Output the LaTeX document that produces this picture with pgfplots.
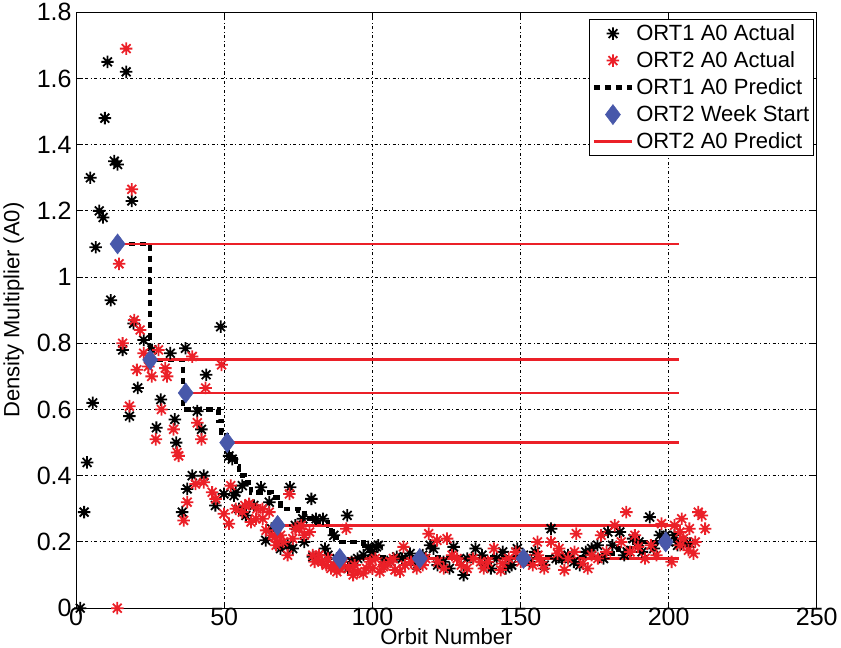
\documentclass[border=0pt]{standalone}
\usepackage{fontspec}
\setmainfont{Liberation Sans}
\usepackage{pgfplots}
\usepackage{pgfplotstable}
\pgfplotsset{compat=1.18}
\definecolor{mred}{RGB}{235,32,40}
\definecolor{mblue}{RGB}{72,88,170}
\pgfdeclareplotmark{ast8}{%
  \pgfpathmoveto{\pgfqpoint{-\pgfplotmarksize}{0pt}}\pgfpathlineto{\pgfqpoint{\pgfplotmarksize}{0pt}}%
  \pgfpathmoveto{\pgfqpoint{0pt}{-\pgfplotmarksize}}\pgfpathlineto{\pgfqpoint{0pt}{\pgfplotmarksize}}%
  \pgfpathmoveto{\pgfqpoint{-.707\pgfplotmarksize}{-.707\pgfplotmarksize}}\pgfpathlineto{\pgfqpoint{.707\pgfplotmarksize}{.707\pgfplotmarksize}}%
  \pgfpathmoveto{\pgfqpoint{-.707\pgfplotmarksize}{.707\pgfplotmarksize}}\pgfpathlineto{\pgfqpoint{.707\pgfplotmarksize}{-.707\pgfplotmarksize}}%
  \pgfusepathqstroke}

\pgfplotstableread{
x y
1.4 0
2.7 0.29
3.7 0.44
4.8 1.30
5.6 0.62
6.6 1.09
7.8 1.20
9.1 1.18
9.7 1.48
10.6 1.65
11.7 0.93
12.9 1.35
14.0 1.34
15.7 0.78
16.9 1.62
18.0 0.58
18.8 1.23
19.4 0.86
20.8 0.665
22.8 0.81
25.6 0.78
27.1 0.545
28.6 0.63
31.8 0.77
33.3 0.57
33.8 0.50
35.8 0.29
36.9 0.785
37.5 0.36
39.2 0.40
40.9 0.595
42.3 0.54
43.1 0.40
43.9 0.705
47.0 0.31
48.8 0.85
49.9 0.345
51.6 0.46
52.7 0.45
53.3 0.34
53.9 0.35
55.0 0.30
56.1 0.37
57.3 0.28
60.0 0.31
62.4 0.365
64.0 0.205
65.2 0.32
66.0 0.24
69.0 0.18
71.4 0.19
72.2 0.365
73.1 0.18
74.0 0.25
76.5 0.27
77.0 0.20
79.4 0.33
79.9 0.155
81.0 0.27
83.3 0.27
84.0 0.18
85.0 0.16
87.0 0.22
88.0 0.15
91.5 0.28
91.8 0.12
93.0 0.14
95.0 0.15
97.0 0.16
98.6 0.185
100.0 0.17
101.4 0.185
102.0 0.19
104.0 0.14
105.0 0.14
108.2 0.155
110.0 0.15
112.7 0.165
115.0 0.13
117.0 0.16
119.5 0.19
120.6 0.18
122.0 0.13
124.0 0.14
126.0 0.12
127.4 0.185
130.8 0.10
132.0 0.15
134.8 0.18
137.0 0.16
138.0 0.13
140.0 0.12
142.0 0.15
144.0 0.17
145.0 0.12
147.0 0.13
148.9 0.18
151.0 0.16
153.0 0.14
155.0 0.17
158.0 0.13
160.3 0.24
162.0 0.15
164.0 0.15
166.0 0.16
168.0 0.14
170.0 0.13
172.0 0.17
174.0 0.18
176.0 0.19
178.0 0.15
179.5 0.23
181.0 0.19
183.5 0.23
185.0 0.16
186.0 0.17
188.0 0.21
190.0 0.20
191.0 0.17
193.6 0.275
195.0 0.18
197.0 0.22
199.0 0.22
200.0 0.20
202.0 0.22
203.0 0.19
205.0 0.20
207.2 0.195
}\ortone

\pgfplotstableread{
x y
13.9 0
14.5 1.04
15.7 0.80
16.9 1.69
18.0 0.61
18.8 1.265
19.6 0.87
20.5 0.72
21.6 0.84
22.8 0.77
24.4 0.73
25.5 0.70
26.9 0.51
27.8 0.78
28.8 0.60
30.1 0.725
30.7 0.70
32.9 0.54
34.1 0.47
34.6 0.46
36.3 0.265
37.5 0.32
39.2 0.76
40.3 0.375
40.9 0.56
42.3 0.51
43.1 0.38
43.7 0.665
45.9 0.35
47.1 0.33
49.1 0.735
49.9 0.285
51.6 0.255
52.2 0.37
53.9 0.30
56.1 0.29
57.0 0.31
58.4 0.315
59.0 0.26
60.7 0.27
61.0 0.30
62.9 0.30
63.0 0.27
64.1 0.235
65.2 0.29
66.3 0.22
67.0 0.215
67.5 0.19
68.0 0.20
69.0 0.22
70.0 0.20
71.4 0.16
72.0 0.345
73.1 0.21
74.0 0.24
75.4 0.24
76.0 0.25
77.0 0.22
78.8 0.23
79.9 0.16
80.5 0.14
81.6 0.145
82.0 0.16
83.0 0.14
84.4 0.13
85.0 0.15
86.0 0.12
87.0 0.13
88.0 0.11
89.0 0.12
90.0 0.13
91.2 0.24
92.0 0.12
93.5 0.10
94.0 0.13
95.0 0.11
96.9 0.105
98.0 0.12
99.2 0.14
100.0 0.12
101.0 0.15
102.5 0.11
103.7 0.125
104.0 0.13
106.0 0.14
107.1 0.15
107.6 0.115
109.3 0.11
110.5 0.185
111.0 0.13
113.0 0.14
115.0 0.12
117.0 0.13
118.0 0.15
119.0 0.225
121.8 0.205
122.0 0.14
124.1 0.12
125.2 0.21
126.9 0.16
128.6 0.15
130.0 0.13
132.0 0.12
134.0 0.15
136.5 0.14
137.6 0.12
139.0 0.14
141.0 0.18
143.3 0.115
143.9 0.135
146.0 0.15
148.4 0.17
150.1 0.14
152.0 0.15
154.1 0.13
155.7 0.20
155.9 0.16
157.0 0.14
158.0 0.12
160.3 0.20
162.5 0.165
163.0 0.18
164.8 0.115
166.0 0.15
168.2 0.17
168.8 0.225
171.0 0.135
172.7 0.12
174.0 0.16
176.1 0.15
177.2 0.22
179.0 0.17
181.8 0.25
184.0 0.20
185.7 0.29
187.0 0.17
188.6 0.22
189.7 0.185
192.0 0.15
194.0 0.19
195.9 0.16
197.6 0.255
199.0 0.20
201.0 0.14
202.0 0.25
203.8 0.23
203.9 0.19
204.4 0.27
205.0 0.21
206.7 0.175
207.0 0.24
208.4 0.165
209.0 0.20
210.0 0.29
211.2 0.28
212.3 0.24
}\orttwo

\pgfplotstableread{
x y
14 1.1
25 0.75
36 0.6
48 0.565
49 0.53
51 0.5
52 0.46
54 0.43
55 0.4
57 0.38
59 0.35
66 0.335
69 0.30
75 0.295
77 0.27
81 0.26
85 0.25
86 0.215
88 0.2
97 0.185
99 0.155
178 0.165
183 0.18
188 0.185
190 0.2
200 0.205
205 0.195
208 0.195
}\predone

\pgfplotstableread{
x y
14 1.1
25 0.75
37 0.65
51 0.5
68 0.25
89 0.15
116 0.15
151 0.15
199 0.2
}\weeks

\begin{document}
\begin{tikzpicture}
\begin{axis}[
  scale only axis,
  width=737bp, height=593bp,
  xmin=0, xmax=250, ymin=0, ymax=1.8,
  xtick={0,50,100,150,200,250},
  ytick={0,0.2,0.4,0.6,0.8,1,1.2,1.4,1.6,1.8},
  yticklabel style={/pgf/number format/fixed,/pgf/number format/precision=1, xshift=-1bp},
  /pgf/number format/assume math mode=true,
  tick align=inside, tick pos=both,
  major tick length=6bp,
  tick style={black, line width=0.9bp},
  axis line style={black, line width=1.2bp},
  grid=major,
  major grid style={black, line width=0.9bp, dash pattern=on 3bp off 2.5bp on 1bp off 2.5bp},
  ticklabel style={font=\fontsize{25}{27}\selectfont},
  label style={font=\fontsize{22}{24}\selectfont},
  xlabel={Orbit Number},
  ylabel={Density Multiplier (A0)},
  xlabel style={yshift=4bp},
  ylabel style={yshift=6bp},
  xticklabel style={yshift=4bp},
  legend style={at={(rel axis cs:0.996,0.988)}, anchor=north east,
    font=\fontsize{22}{24}\selectfont, draw=black, line width=1bp,
    inner xsep=2bp, inner ysep=3bp, row sep=5.5bp},
  legend cell align=left,
  legend image code/.code={\draw[mark repeat=2,mark phase=2,#1] plot coordinates {(0bp,0bp) (19bp,0bp) (38bp,0bp)};},
]
\addplot[only marks, mark=ast8, mark size=6.2bp, draw=black, line width=1.8bp] table[x=x,y=y]{\ortone};
\addlegendentry{ORT1 A0 Actual}
\addplot[only marks, mark=ast8, mark size=6.2bp, draw=mred, line width=1.8bp] table[x=x,y=y]{\orttwo};
\addlegendentry{ORT2 A0 Actual}
\addplot[const plot, black, line width=4.5bp, dash pattern=on 6.5bp off 4.5bp, mark=none] table[x=x,y=y]{\predone};
\addlegendentry{ORT1 A0 Predict}
\addplot[only marks, mark=diamond*, mark size=10bp, draw=mblue, fill=mblue, line width=0.5bp] table[x=x,y=y]{\weeks};
\addlegendentry{ORT2 Week Start}
\addplot[mred, line width=2.8bp, mark=none] coordinates {(14,1.1) (203.5,1.1)};
\addlegendentry{ORT2 A0 Predict}
\addplot[mred, line width=2.8bp, mark=none, forget plot] coordinates {(25,0.75) (203.5,0.75)};
\addplot[mred, line width=2.8bp, mark=none, forget plot] coordinates {(37,0.65) (203.5,0.65)};
\addplot[mred, line width=2.8bp, mark=none, forget plot] coordinates {(51,0.5) (203.5,0.5)};
\addplot[mred, line width=2.8bp, mark=none, forget plot] coordinates {(68,0.25) (203.5,0.25)};
\addplot[mred, line width=2.8bp, mark=none, forget plot] coordinates {(89,0.15) (203.5,0.15)};
\addplot[mred, line width=2.8bp, mark=none, forget plot] coordinates {(199,0.2) (203.5,0.2)};
\end{axis}
\end{tikzpicture}
\end{document}
